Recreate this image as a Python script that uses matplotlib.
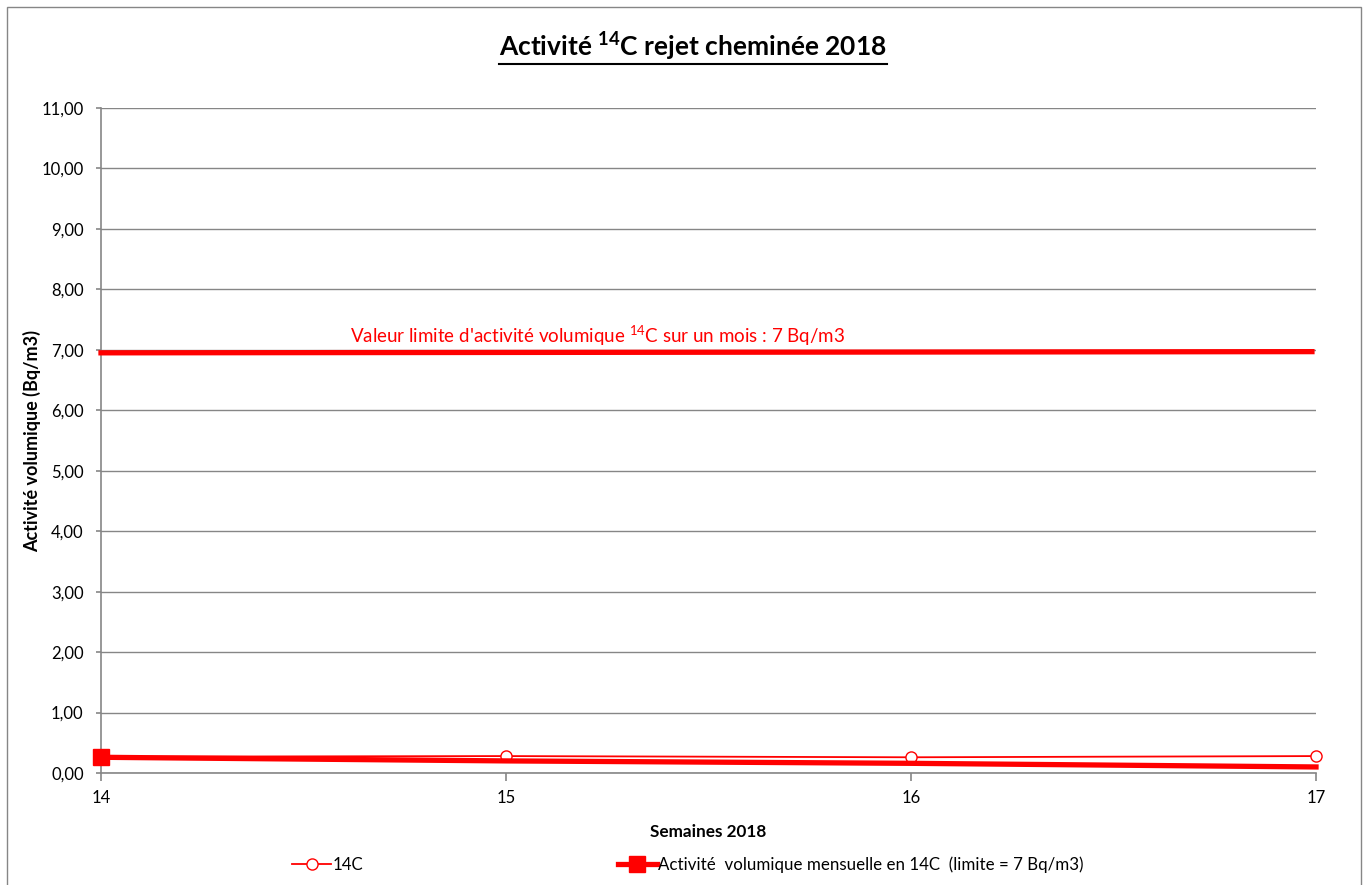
import matplotlib
matplotlib.use("Agg")
import matplotlib.pyplot as plt
from matplotlib.patches import Rectangle
from matplotlib.lines import Line2D

plt.rcParams['font.family'] = ['Lato', 'DejaVu Sans']
plt.rcParams['mathtext.fontset'] = 'custom'
plt.rcParams['mathtext.rm'] = 'Lato'
plt.rcParams['mathtext.bf'] = 'Lato:bold'

# Data
weeks = [14, 15, 16, 17]
c14_weekly = [0.27, 0.28, 0.26, 0.28]
c14_monthly = [0.26, 0.20, 0.16, 0.10]
limit_x = [14, 16.99]
limit_y = [6.95, 6.97]
y_ticks = [0, 1, 2, 3, 4, 5, 6, 7, 8, 9, 10, 11]
y_ticklabels = ["0,00", "1,00", "2,00", "3,00", "4,00", "5,00", "6,00",
                "7,00", "8,00", "9,00", "10,00", "11,00"]

W, H = 1368, 885
fig = plt.figure(figsize=(W / 100, H / 100), dpi=100)
ax = fig.add_axes([101 / W, 1 - 773 / H, (1316 - 101) / W, (773 - 108) / H])

grey = '#868686'
red = '#ff0000'

ax.plot(weeks, c14_weekly, color=red, lw=1.3, marker='o', markersize=8,
        markerfacecolor='white', markeredgecolor=red, markeredgewidth=1.0,
        zorder=3, clip_on=False, label='14C')
ax.plot(weeks, c14_monthly, color=red, lw=3.8, marker='s', markersize=11,
        markevery=[0], zorder=4, clip_on=False,
        label='Activité  volumique mensuelle en 14C  (limite = 7 Bq/m3)')
ax.plot(limit_x, limit_y, color=red, lw=3.8, zorder=4, clip_on=False)

ax.text(14.615, 7.24, "Valeur limite d'activité volumique $^{14}$C sur un mois : 7 Bq/m3",
        color=red, fontsize=13.5, va='center', ha='left')

ax.set_xlim(14, 17)
ax.set_ylim(0, 11)
ax.set_xticks(weeks)
ax.set_xticklabels([str(w) for w in weeks], fontsize=12)
ax.set_yticks(y_ticks)
ax.set_yticklabels(y_ticklabels, fontsize=12)
ax.yaxis.grid(True, color=grey, lw=1.0)
ax.set_axisbelow(True)
for s in ['top', 'right']:
    ax.spines[s].set_visible(False)
for s in ['left', 'bottom']:
    ax.spines[s].set_color(grey)
    ax.spines[s].set_linewidth(1.2)
ax.tick_params(axis='both', colors=grey, labelcolor='black', width=1.2)
ax.tick_params(axis='x', length=6, pad=6)
ax.tick_params(axis='y', length=3.5, pad=9)

ax.set_xlabel('Semaines 2018', fontsize=12.3, fontweight='bold', labelpad=13)
ax.set_ylabel('Activité volumique (Bq/m3)', fontsize=13, fontweight='bold', labelpad=0)

# Title with underline
title = fig.text(693 / W, 1 - 47 / H, r"Activité $\mathbf{^{14}}$C rejet cheminée 2018",
                 fontsize=19, fontweight='bold', ha='center', va='center')
fig.canvas.draw()
bb = title.get_window_extent()
fig.add_artist(Line2D([bb.x0 / W, bb.x1 / W], [(bb.y0 - 1) / H, (bb.y0 - 1) / H],
                      color='black', lw=1.5, transform=fig.transFigure))

# Legend
handles, labels = ax.get_legend_handles_labels()
leg = fig.legend(handles, labels, loc='center', bbox_to_anchor=(688 / W, 1 - 865 / H),
                 ncol=2, frameon=False, fontsize=12.2, handlelength=2.3,
                 handletextpad=0.1, columnspacing=15)

# Chart border
fig.add_artist(Rectangle((7 / W, -0.01), (1361 - 7) / W, 1 - 7 / H + 0.01,
                         transform=fig.transFigure, fill=False, edgecolor=grey, lw=1.0))

fig.savefig('out.png', dpi=100)
